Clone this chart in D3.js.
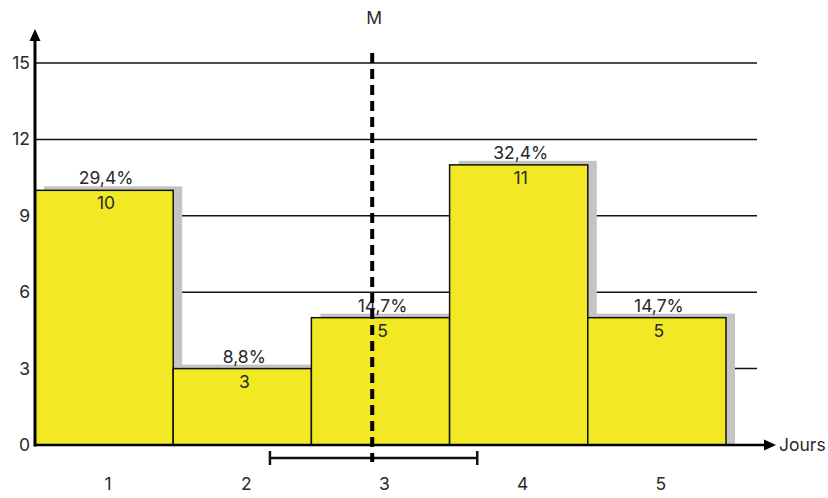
<!DOCTYPE html>
<html lang="fr">
<head>
<meta charset="UTF-8">
<title>Jours</title>
<style>
  body { margin: 0; background: #fff; }
  text { font-family: Inter, "Noto Sans", sans-serif; fill: #2a2a2a; }
</style>
</head>
<body>
<script src="https://cdn.jsdelivr.net/npm/d3@7"></script>
<script>
const days = [1, 2, 3, 4, 5];
const counts = [10, 3, 5, 11, 5];
const percentLabels = ["29,4%", "8,8%", "14,7%", "32,4%", "14,7%"];
const yTicks = [0, 3, 6, 9, 12, 15];
const meanDay = 2.94;
const spread = [2.2, 3.7];

const svg_w = 828, svg_h = 498;
const fs = 17.5;
const svg = d3.select("body").append("svg")
    .attr("width", svg_w)
    .attr("height", svg_h);

const x = d3.scaleLinear().domain([0.5, 5.5]).range([35, 726]);
const y = d3.scaleLinear().domain([0, 15]).range([445, 63]);
const barW = x(1.5) - x(0.5);

// grid
svg.append("g").selectAll("line")
    .data(yTicks.filter(d => d > 0))
    .join("line")
    .attr("x1", 35).attr("x2", 757)
    .attr("y1", d => y(d)).attr("y2", d => y(d))
    .attr("stroke", "#111").attr("stroke-width", 1.5);

// shadows
svg.append("g").selectAll("rect")
    .data(counts)
    .join("rect")
    .attr("x", (d, i) => x(days[i] - 0.5) + 9)
    .attr("y", d => y(d) - 4)
    .attr("width", barW)
    .attr("height", d => y(0) - y(d) + 4)
    .attr("fill", "#c4c4c4");

// bars
svg.append("g").selectAll("rect")
    .data(counts)
    .join("rect")
    .attr("x", (d, i) => x(days[i] - 0.5))
    .attr("y", d => y(d))
    .attr("width", barW)
    .attr("height", d => y(0) - y(d))
    .attr("fill", "#f2e924")
    .attr("stroke", "#111")
    .attr("stroke-width", 1.5);

// labels
svg.append("g").selectAll("text")
    .data(percentLabels)
    .join("text")
    .attr("x", (d, i) => x(days[i]) + 2)
    .attr("y", (d, i) => y(counts[i]) - 6)
    .attr("text-anchor", "middle")
    .attr("font-size", fs)
    .text(d => d);

svg.append("g").selectAll("text")
    .data(counts)
    .join("text")
    .attr("x", (d, i) => x(days[i]) + 2)
    .attr("y", d => y(d) + 19)
    .attr("text-anchor", "middle")
    .attr("font-size", fs)
    .text(d => d);

// y ticks
svg.append("g").selectAll("text")
    .data(yTicks)
    .join("text")
    .attr("x", 30)
    .attr("y", d => y(d) + 6)
    .attr("text-anchor", "end")
    .attr("font-size", fs)
    .text(d => d);

// x ticks
svg.append("g").selectAll("text")
    .data(days)
    .join("text")
    .attr("x", d => x(d) + 4)
    .attr("y", 490)
    .attr("text-anchor", "middle")
    .attr("font-size", fs)
    .text(d => d);

// axes with arrows
svg.append("line")
    .attr("x1", 35).attr("x2", 35)
    .attr("y1", y(0) + 1.5).attr("y2", 40)
    .attr("stroke", "#000").attr("stroke-width", 3);
svg.append("path")
    .attr("d", "M35,29 L29.5,41 L40.5,41 Z")
    .attr("fill", "#000");

svg.append("line")
    .attr("x1", 34).attr("x2", 766)
    .attr("y1", y(0)).attr("y2", y(0))
    .attr("stroke", "#000").attr("stroke-width", 2.5);
svg.append("path")
    .attr("d", `M776,${y(0)} L764,${y(0) - 5.5} L764,${y(0) + 5.5} Z`)
    .attr("fill", "#000");
svg.append("text")
    .attr("x", 779).attr("y", y(0) + 6)
    .attr("font-size", fs)
    .text("Jours");

// spread bar
const sy = 458;
svg.append("line")
    .attr("x1", x(spread[0])).attr("x2", x(spread[1]))
    .attr("y1", sy).attr("y2", sy)
    .attr("stroke", "#111").attr("stroke-width", 2.5);
svg.append("g").selectAll("line")
    .data(spread)
    .join("line")
    .attr("x1", d => x(d)).attr("x2", d => x(d))
    .attr("y1", sy - 7).attr("y2", sy + 7)
    .attr("stroke", "#111").attr("stroke-width", 2.5);

// mean line
svg.append("line")
    .attr("x1", x(meanDay)).attr("x2", x(meanDay))
    .attr("y1", 53).attr("y2", 462)
    .attr("stroke", "#000").attr("stroke-width", 4)
    .attr("stroke-dasharray", "10,6");
svg.append("text")
    .attr("x", x(meanDay) + 2).attr("y", 24)
    .attr("text-anchor", "middle")
    .attr("font-size", fs)
    .text("M");
</script>
</body>
</html>
